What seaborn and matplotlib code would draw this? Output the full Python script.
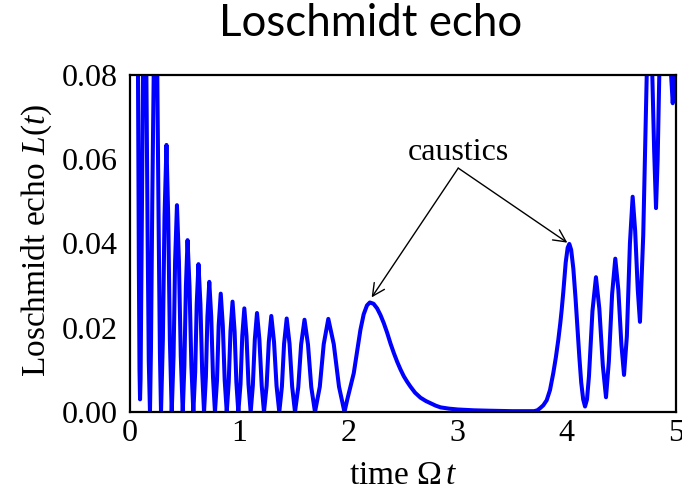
import matplotlib
matplotlib.use("Agg")
import matplotlib.pyplot as plt
import seaborn as sns
import pandas as pd

# Loschmidt echo L(t) against time (in units of 1/Omega)
time = [
    0.060, 0.073, 0.081, 0.087, 0.092, 0.097, 0.105, 0.119, 0.127, 0.135,
    0.143, 0.150, 0.162, 0.172, 0.183,
    0.192, 0.204, 0.217, 0.233, 0.250, 0.262, 0.274, 0.284,
    0.301, 0.316, 0.334, 0.350, 0.365, 0.382,
    0.399, 0.413, 0.430, 0.448, 0.465, 0.483,
    0.498, 0.512, 0.527, 0.545, 0.562, 0.580,
    0.597, 0.611, 0.627, 0.645, 0.661, 0.678,
    0.695, 0.709, 0.726, 0.744, 0.760, 0.778,
    0.797, 0.812, 0.831, 0.850, 0.867, 0.886,
    0.904, 0.920, 0.939, 0.958, 0.974, 0.992,
    1.012, 1.028, 1.047, 1.067, 1.085, 1.105,
    1.125, 1.143, 1.163, 1.185, 1.206, 1.227,
    1.251, 1.271, 1.294, 1.319, 1.342, 1.367,
    1.391, 1.411, 1.435, 1.461, 1.485, 1.511,
    1.541, 1.567, 1.598, 1.630, 1.660, 1.694,
    1.738, 1.774, 1.816, 1.866, 1.914, 1.964,
    1.990, 2.020, 2.049, 2.080, 2.110, 2.140, 2.170, 2.196,
    2.230, 2.263, 2.294, 2.324, 2.355, 2.385, 2.416, 2.447, 2.477,
    2.507, 2.540, 2.569, 2.610, 2.660, 2.710, 2.752, 2.800, 2.844,
    2.920, 3.000, 3.150, 3.300, 3.500, 3.650, 3.700, 3.730, 3.755,
    3.785, 3.816, 3.846, 3.876, 3.900, 3.922, 3.940, 3.953, 3.968,
    3.990, 4.008, 4.023, 4.040, 4.060, 4.080, 4.097, 4.115, 4.132, 4.150, 4.167,
    4.185, 4.203, 4.235, 4.267, 4.298, 4.330, 4.359,
    4.385, 4.415, 4.444, 4.472, 4.500, 4.524,
    4.550, 4.578, 4.603, 4.626, 4.650, 4.670,
    4.700, 4.732, 4.757, 4.783, 4.800, 4.817,
    4.832, 4.847, 4.870, 4.900, 4.930, 4.955, 4.970, 4.985, 5.000,
]
echo = [
    0.1600, 0.0800, 0.0350, 0.0100, 0.0030, 0.0080, 0.0350, 0.0800, 0.1000, 0.1080,
    0.1000, 0.0800, 0.0400, 0.0120, 0.0000,
    0.0150, 0.0500, 0.0800, 0.1000, 0.0800, 0.0450, 0.0140, 0.0000,
    0.0172, 0.0463, 0.0634, 0.0463, 0.0172, 0.0000,
    0.0133, 0.0358, 0.0491, 0.0358, 0.0133, 0.0000,
    0.0110, 0.0298, 0.0408, 0.0298, 0.0110, 0.0000,
    0.0095, 0.0256, 0.0351, 0.0256, 0.0095, 0.0000,
    0.0083, 0.0226, 0.0309, 0.0226, 0.0083, 0.0000,
    0.0076, 0.0205, 0.0281, 0.0205, 0.0076, 0.0000,
    0.0071, 0.0191, 0.0262, 0.0191, 0.0071, 0.0000,
    0.0066, 0.0180, 0.0246, 0.0180, 0.0066, 0.0000,
    0.0063, 0.0172, 0.0235, 0.0172, 0.0063, 0.0000,
    0.0062, 0.0166, 0.0228, 0.0166, 0.0062, 0.0000,
    0.0060, 0.0162, 0.0222, 0.0162, 0.0060, 0.0000,
    0.0059, 0.0160, 0.0219, 0.0160, 0.0059, 0.0000,
    0.0060, 0.0161, 0.0221, 0.0161, 0.0060, 0.0000,
    0.0030, 0.0062, 0.0092, 0.0145, 0.0195, 0.0232, 0.0253, 0.0260,
    0.0257, 0.0246, 0.0230, 0.0211, 0.0188, 0.0163, 0.0140, 0.0119, 0.0101,
    0.0085, 0.0071, 0.0060, 0.0046, 0.0034, 0.0026, 0.0021, 0.0015, 0.0011,
    0.0008, 0.0006, 0.0004, 0.0003, 0.0002, 0.0002, 0.0002, 0.0004, 0.0009,
    0.0016, 0.0028, 0.0052, 0.0092, 0.0130, 0.0171, 0.0210, 0.0242, 0.0285,
    0.0355, 0.0390, 0.0399, 0.0385, 0.0340, 0.0270, 0.0200, 0.0130, 0.0070, 0.0030, 0.0013,
    0.0030, 0.0085, 0.0240, 0.0320, 0.0245, 0.0110, 0.0035,
    0.0120, 0.0280, 0.0364, 0.0290, 0.0160, 0.0088,
    0.0180, 0.0400, 0.0511, 0.0430, 0.0290, 0.0214,
    0.0420, 0.0800, 0.0950, 0.0800, 0.0620, 0.0484,
    0.0600, 0.0800, 0.1150, 0.1350, 0.1150, 0.0800, 0.0733, 0.0800, 0.0950,
]

x_ticks = [0, 1, 2, 3, 4, 5]
y_ticks = [0.00, 0.02, 0.04, 0.06, 0.08]
y_tick_labels = ["0.00", "0.02", "0.04", "0.06", "0.08"]

# peaks pointed at by the "caustics" label
caustic_peaks = [(2.213, 0.0272), (4.005, 0.0402)]

sns.set_theme(style="white")
plt.rcParams["font.family"] = ["Liberation Serif", "DejaVu Serif"]
plt.rcParams["mathtext.fontset"] = "custom"
plt.rcParams["mathtext.rm"] = "Liberation Serif"
plt.rcParams["mathtext.it"] = "Liberation Serif:italic"
plt.rcParams["text.color"] = "black"

df = pd.DataFrame({"time": time, "echo": echo})

fig = plt.figure(figsize=(6.82, 4.95), dpi=100)
ax = fig.add_axes([130 / 682, 1 - 412 / 495, 546 / 682, 337 / 495])

sns.lineplot(data=df, x="time", y="echo", color="#0000ff", linewidth=2.9,
             estimator=None, ax=ax)

ax.set_xlim(0, 5)
ax.set_ylim(0, 0.08)
ax.set_xticks(x_ticks)
ax.set_yticks(y_ticks)
ax.set_yticklabels(y_tick_labels)
ax.tick_params(axis="both", direction="in", length=7, width=1.5,
               labelsize=23, colors="black")
ax.tick_params(axis="x", pad=5)
ax.tick_params(axis="y", pad=9)
for spine in ax.spines.values():
    spine.set_color("black")
    spine.set_linewidth(1.6)

ax.set_xlabel(r"time $\Omega\,t$", fontsize=24, color="black")
ax.set_ylabel(r"Loschmidt echo $L(t)$", fontsize=24, color="black")
ax.xaxis.set_label_coords(0.5, -0.145)
ax.yaxis.set_label_coords(-0.14, 0.51)

# label with two arrows pointing at the caustic peaks
apex = (3.006, 0.0579)
ax.text(3.006, 0.0598, "caustics", fontsize=23, ha="center", va="baseline",
        color="black")
for peak in caustic_peaks:
    ax.annotate("", xy=peak, xytext=apex,
                arrowprops=dict(arrowstyle="->", color="black", lw=1.0,
                                mutation_scale=22, shrinkA=0, shrinkB=0))

fig.text(371 / 682, 1 - 36 / 495, "Loschmidt echo", fontsize=31.5,
         family=["Lato", "DejaVu Sans"], ha="center", va="baseline",
         color="black")

fig.savefig("out.png", dpi=100)
